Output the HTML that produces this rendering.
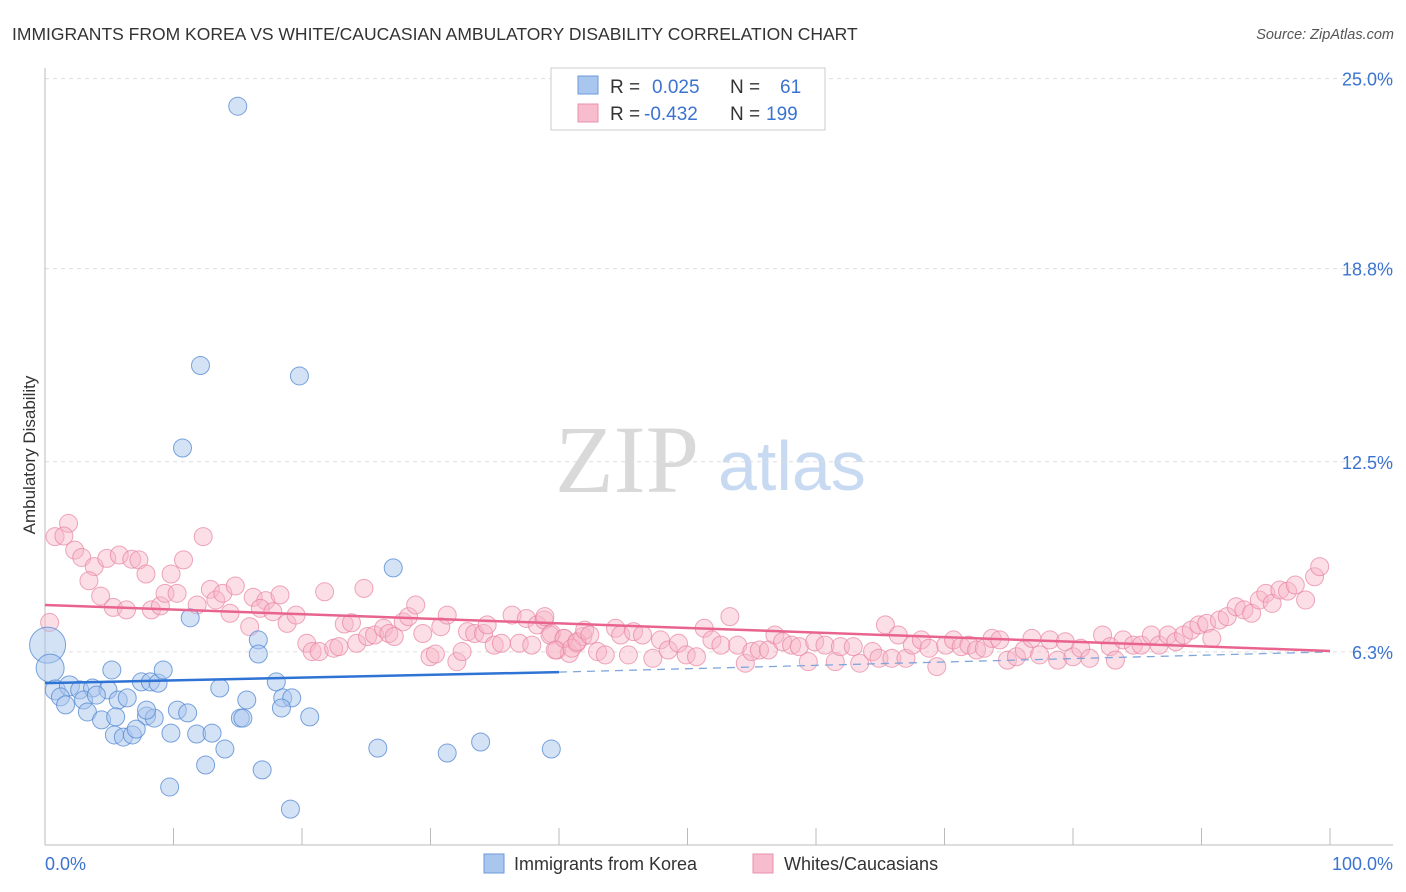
<!DOCTYPE html>
<html><head><meta charset="utf-8">
<style>
body{margin:0;background:#fff;font-family:"Liberation Sans",sans-serif;}
#wrap{position:relative;width:1406px;height:892px;overflow:hidden;}
</style></head>
<body>
<div id="wrap">
<svg id="svg" width="1406" height="892" xmlns="http://www.w3.org/2000/svg">
<text x="12" y="40" font-size="17.5" fill="#333">IMMIGRANTS FROM KOREA VS WHITE/CAUCASIAN AMBULATORY DISABILITY CORRELATION CHART</text>
<text x="1394" y="39" font-size="14.5" fill="#555" font-style="italic" text-anchor="end">Source: ZipAtlas.com</text>
<text x="555" y="492" font-size="96" fill="#d9d9d9" font-family="Liberation Serif,serif">ZIP</text>
<text x="718" y="490" font-size="70" fill="#c8daf2">atlas</text>
<g id="grid"></g>
<g id="axes"></g>
<g id="pts"></g>
<g id="lines"></g>
<text x="35" y="455" font-size="17" fill="#333" text-anchor="middle" transform="rotate(-90 35 455)">Ambulatory Disability</text>
<g>
<rect x="551" y="68" width="274" height="62" fill="#fff" stroke="#ccc"/>
<rect x="578" y="76" width="20" height="18" fill="#a9c6ee" stroke="#6d9ad8"/>
<rect x="578" y="104" width="20" height="18" fill="#f7bccd" stroke="#e891ab"/>
<text x="610" y="93" font-size="19" fill="#333">R = </text><text x="652" y="93" font-size="19" fill="#3b73d0">0.025</text>
<text x="730" y="93" font-size="19" fill="#333">N = </text><text x="780" y="93" font-size="19" fill="#3b73d0">61</text>
<text x="610" y="120" font-size="19" fill="#333">R = </text><text x="644" y="120" font-size="19" fill="#3b73d0">-0.432</text>
<text x="730" y="120" font-size="19" fill="#333">N = </text><text x="766" y="120" font-size="19" fill="#3b73d0">199</text>
</g>
<g>
<rect x="484" y="854" width="20" height="19" fill="#a9c6ee" stroke="#6d9ad8"/>
<text x="514" y="870" font-size="18" fill="#333">Immigrants from Korea</text>
<rect x="753" y="854" width="20" height="19" fill="#f7bccd" stroke="#e891ab"/>
<text x="784" y="870" font-size="18" fill="#333">Whites/Caucasians</text>
</g>
</svg>
</div>
<script>
const yTicks=[25.0,18.8,12.5,6.3];
const yTickLabels=["25.0%","18.8%","12.5%","6.3%"];
const xTickCount=10;
const blueX=[15.0,12.1,19.8,10.7,27.1,11.3,0.2,0.4,0.8,1.9,2.7,3.7,4.9,1.2,1.6,3.0,4.0,5.7,6.4,5.2,7.5,8.2,8.8,9.2,13.6,18.0,16.6,16.6,15.7,18.5,19.2,18.4,3.3,4.4,5.5,7.9,8.5,7.9,10.3,11.1,15.2,15.4,20.6,5.4,6.1,6.8,7.1,9.8,11.8,13.0,14.0,12.5,16.9,9.7,19.1,25.9,31.3,33.9,39.4];
const blueY=[24.1,15.64,15.3,12.95,9.04,7.41,6.52,5.77,5.06,5.19,5.06,5.12,5.06,4.83,4.57,4.73,4.89,4.73,4.80,5.71,5.32,5.32,5.28,5.71,5.12,5.32,6.69,6.23,4.73,4.80,4.80,4.47,4.34,4.08,4.18,4.21,4.14,4.40,4.40,4.31,4.14,4.14,4.18,3.59,3.52,3.59,3.78,3.65,3.62,3.65,3.13,2.61,2.45,1.89,1.17,3.16,3.00,3.36,3.13];
const blueR=[9,9,9,9,9,9,18,14,10,10,9,9,9,9,9,9,9,9,9,9,9,9,9,9,9,9,9,9,9,9,9,9,9,9,9,9,9,9,9,9,9,9,9,9,9,9,9,9,9,9,9,9,9,9,9,9,9,9,9];
const pinkX=[1.83,0.78,1.47,2.31,2.86,3.83,3.42,4.81,5.78,6.75,7.31,7.86,4.33,5.31,6.34,8.28,8.98,9.81,10.78,12.31,9.34,10.28,11.84,12.87,13.29,13.84,14.81,14.4,15.93,16.2,17.18,16.76,17.73,18.29,18.84,19.54,20.37,20.79,21.34,21.76,22.46,22.87,23.29,23.85,24.26,24.82,25.1,25.65,26.35,26.76,27.18,27.87,28.29,28.85,29.4,29.96,30.38,30.8,31.3,32.05,32.46,32.88,33.44,34.13,34.41,34.96,35.52,36.35,36.91,37.46,37.88,38.3,38.85,39.41,39.83,40.38,40.8,41.36,41.86,0.36,
38.9,39.3,40.4,39.7,41.0,41.4,42.0,42.4,43.0,43.6,44.4,44.8,45.8,46.5,45.4,47.3,47.9,48.5,49.3,49.9,50.7,51.3,51.9,52.6,53.3,53.9,54.5,55.0,55.6,56.3,56.8,57.4,58.1,58.7,59.4,59.9,60.7,61.5,61.9,62.9,63.4,64.4,64.9,65.4,65.9,66.4,67.0,67.5,68.2,68.8,69.4,70.1,70.7,71.3,71.9,72.5,73.1,73.7,74.3,74.9,75.6,76.2,76.8,77.4,78.2,78.8,79.4,80.0,80.6,81.3,82.3,82.9,83.3,83.9,84.7,85.3,86.1,86.7,87.4,88.0,88.6,89.2,89.8,90.4,90.8,91.4,92.0,92.7,93.3,93.9,94.5,95.0,95.5,96.1,96.7,97.3,98.1,98.8,99.2];
const pinkY=[10.49,10.06,10.08,9.62,9.38,9.08,8.62,9.35,9.46,9.32,9.30,8.84,8.12,7.75,7.67,7.67,7.80,8.84,9.30,10.06,8.21,8.21,7.83,8.34,7.99,8.21,8.45,7.56,7.12,8.08,7.97,7.72,7.61,8.16,7.23,7.50,6.58,6.31,6.31,8.26,6.42,6.47,7.21,7.25,6.58,8.37,6.80,6.85,7.07,6.90,6.80,7.28,7.45,7.83,6.90,6.14,6.23,7.12,7.50,5.98,6.31,6.96,6.90,6.90,7.18,6.52,6.58,7.50,6.58,7.39,6.52,7.18,7.34,6.90,6.36,6.74,6.25,6.58,6.80,7.26,
7.45,6.85,6.74,6.36,6.42,6.63,7.01,6.85,6.31,6.20,7.07,6.85,6.96,6.85,6.20,6.09,6.69,6.36,6.58,6.20,6.14,7.07,6.69,6.52,7.45,6.52,5.93,6.31,6.36,6.36,6.85,6.63,6.52,6.47,5.98,6.63,6.52,5.98,6.47,6.47,5.93,6.31,6.09,7.18,6.09,6.85,6.09,6.52,6.69,6.42,5.82,6.52,6.69,6.47,6.52,6.36,6.42,6.74,6.69,6.03,6.14,6.36,6.74,6.20,6.69,6.03,6.63,6.14,6.42,6.09,6.85,6.47,6.03,6.69,6.52,6.52,6.85,6.52,6.85,6.63,6.85,7.01,7.18,7.23,6.74,7.34,7.45,7.77,7.67,7.56,7.99,8.21,7.88,8.32,8.28,8.48,7.99,8.75,9.08];
const blueTrend=[[0,5.28],[40,5.64],[100,6.30]];
const pinkTrend=[[0,7.83],[100,6.33]];

const NS="http://www.w3.org/2000/svg";
const X0=45,X1=1330,Y0=845,PPU=191.6/6.25;
const sx=v=>X0+(X1-X0)*v/100;
const sy=v=>Y0-v*PPU;
function mk(tag,attrs,parent){const e=document.createElementNS(NS,tag);for(const k in attrs)e.setAttribute(k,attrs[k]);parent.appendChild(e);return e;}
const grid=document.getElementById('grid'),axes=document.getElementById('axes'),pts=document.getElementById('pts'),lines=document.getElementById('lines');
yTicks.forEach((t,i)=>{
 const g=mk('line',{x1:X0,x2:1393,y1:sy(t),y2:sy(t),stroke:'#ddd','stroke-dasharray':'4,4'},grid);
 
 
 const l=mk('text',{x:1393,y:sy(t)+7,'font-size':18,fill:'#3b73d0','text-anchor':'end'},axes);
 l.textContent=yTickLabels[i];
 
 
});
const ya=mk('line',{x1:X0,x2:X0,y1:68,y2:Y0,stroke:'#bbb'},axes);


const xa=mk('line',{x1:X0,x2:1393,y1:Y0,y2:Y0,stroke:'#bbb'},axes);


for(let i=0;i<=xTickCount;i++){
 const t=mk('line',{x1:sx(i*10),x2:sx(i*10),y1:828,y2:Y0,stroke:'#bbb'},axes);
 
 
}
const xl0=mk('text',{x:45,y:870,'font-size':18,fill:'#3b73d0'},axes);xl0.textContent='0.0%';


const xl1=mk('text',{x:1393,y:870,'font-size':18,fill:'#3b73d0','text-anchor':'end'},axes);xl1.textContent='100.0%';


pinkX.forEach((v,i)=>{
 const c=mk('circle',{cx:sx(v),cy:sy(pinkY[i]),r:9,fill:'rgba(247,182,200,0.45)',stroke:'rgba(232,130,160,0.7)','stroke-width':1},pts);
 
 
});
blueX.forEach((v,i)=>{
 const c=mk('circle',{cx:sx(v),cy:sy(blueY[i]),r:blueR[i],fill:'rgba(169,198,238,0.5)',stroke:'rgba(80,135,210,0.75)','stroke-width':1},pts);
 
 
});
const bs=mk('line',{x1:sx(blueTrend[0][0]),y1:sy(blueTrend[0][1]),x2:sx(blueTrend[1][0]),y2:sy(blueTrend[1][1]),stroke:'#2f73d4','stroke-width':2.5},lines);


const bd=mk('line',{x1:sx(blueTrend[1][0]),y1:sy(blueTrend[1][1]),x2:sx(blueTrend[2][0]),y2:sy(blueTrend[2][1]),stroke:'#7fa6dc','stroke-width':1.3,'stroke-dasharray':'8,6'},lines);


const ps=mk('line',{x1:sx(pinkTrend[0][0]),y1:sy(pinkTrend[0][1]),x2:sx(pinkTrend[1][0]),y2:sy(pinkTrend[1][1]),stroke:'#e8648e','stroke-width':2.5},lines);


</script>
</body></html>
